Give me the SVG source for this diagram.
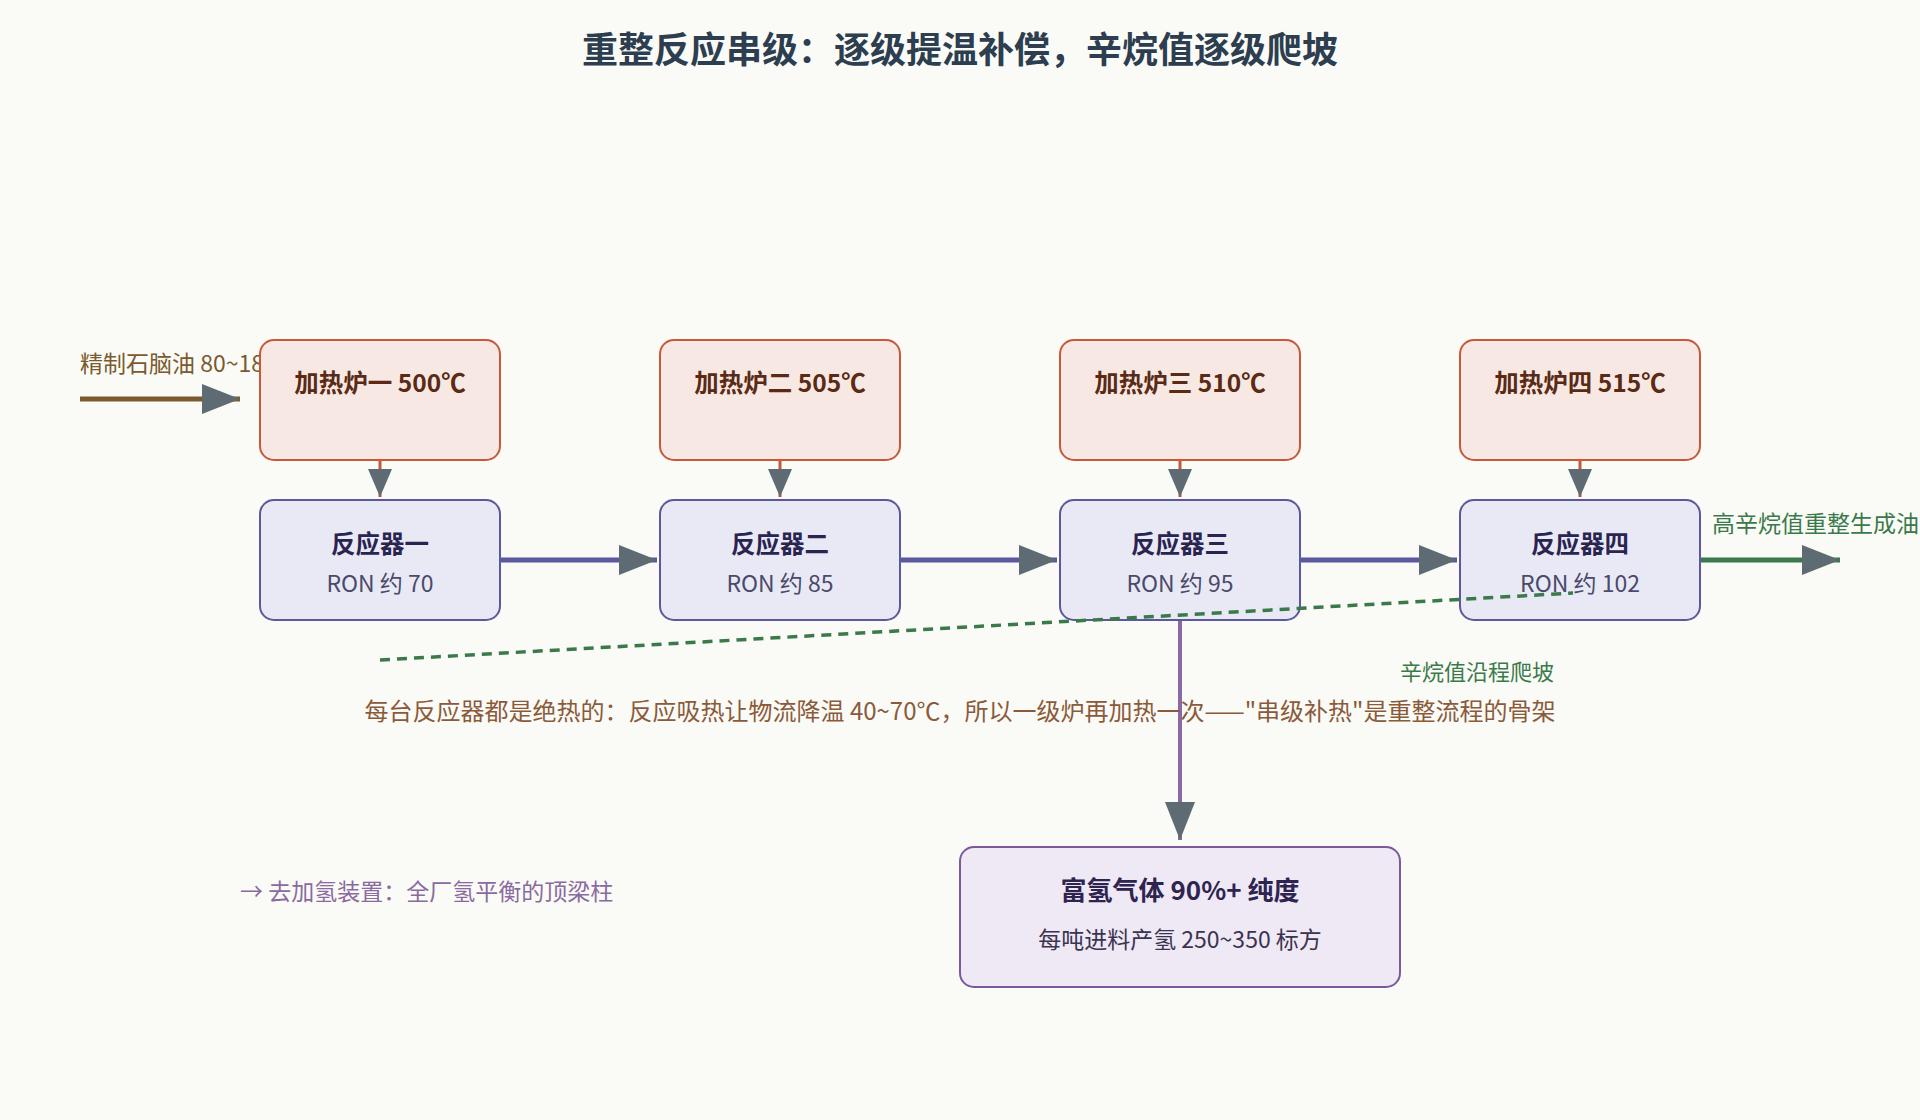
<svg xmlns="http://www.w3.org/2000/svg" width="1920" height="1120" viewBox="0 0 1920 1120">
<style>
text{font-family:"Noto Sans CJK SC","Noto Sans",sans-serif}
.fur{fill:#f8e8e4;stroke:#c8583a;stroke-width:2}
.rea{fill:#e9e9f6;stroke:#5a589e;stroke-width:2}
.ft{font-size:24.5px;font-weight:700;fill:#5a2a14;text-anchor:middle}
.rt{font-size:24.5px;font-weight:700;fill:#2a2450;text-anchor:middle}
.rs{font-size:23px;fill:#4a4a6a;text-anchor:middle}
</style>
<defs>
<marker id="ah" markerUnits="userSpaceOnUse" markerWidth="40" markerHeight="30" refX="38" refY="15" orient="auto"><path d="M0,0 L38,15 L0,30 Z" fill="#5f6b72"/></marker>
<marker id="ahs" markerUnits="userSpaceOnUse" markerWidth="30" markerHeight="30" refX="28" refY="12" orient="auto"><path d="M0,0 L28,12 L0,24 Z" fill="#5f6b72"/></marker>
</defs>
<rect width="1920" height="1120" fill="#fafaf6"/>
<text x="960" y="63" font-size="36" font-weight="700" fill="#2c3e50" text-anchor="middle">重整反应串级：逐级提温补偿，辛烷值逐级爬坡</text>
<text x="80" y="372" font-size="23" fill="#7a5a2e">精制石脑油 80~180℃</text>
<text x="1712" y="532" font-size="23" fill="#3a7a4a">高辛烷值重整生成油</text>
<g id="connectors" fill="none">
<line x1="80" y1="399" x2="240" y2="399" stroke="#7a5a2e" stroke-width="5" marker-end="url(#ah)"/>
<line x1="380" y1="460" x2="380" y2="497" stroke="#c8583a" stroke-width="3" marker-end="url(#ahs)"/>
<line x1="780" y1="460" x2="780" y2="497" stroke="#c8583a" stroke-width="3" marker-end="url(#ahs)"/>
<line x1="1180" y1="460" x2="1180" y2="497" stroke="#c8583a" stroke-width="3" marker-end="url(#ahs)"/>
<line x1="1580" y1="460" x2="1580" y2="497" stroke="#c8583a" stroke-width="3" marker-end="url(#ahs)"/>
<line x1="500" y1="560" x2="657" y2="560" stroke="#5a589e" stroke-width="5" marker-end="url(#ah)"/>
<line x1="900" y1="560" x2="1057" y2="560" stroke="#5a589e" stroke-width="5" marker-end="url(#ah)"/>
<line x1="1300" y1="560" x2="1457" y2="560" stroke="#5a589e" stroke-width="5" marker-end="url(#ah)"/>
<line x1="1700" y1="560" x2="1840" y2="560" stroke="#3a7a4a" stroke-width="5" marker-end="url(#ah)"/>
<line x1="1180" y1="620" x2="1180" y2="840" stroke="#8a6aa0" stroke-width="4" marker-end="url(#ah)"/>
</g>
<g id="furnace1"><rect class="fur" x="260" y="340" width="240" height="120" rx="14"/><text class="ft" x="380" y="392">加热炉一 500℃</text></g>
<g id="furnace2"><rect class="fur" x="660" y="340" width="240" height="120" rx="14"/><text class="ft" x="780" y="392">加热炉二 505℃</text></g>
<g id="furnace3"><rect class="fur" x="1060" y="340" width="240" height="120" rx="14"/><text class="ft" x="1180" y="392">加热炉三 510℃</text></g>
<g id="furnace4"><rect class="fur" x="1460" y="340" width="240" height="120" rx="14"/><text class="ft" x="1580" y="392">加热炉四 515℃</text></g>
<g id="reactor1"><rect class="rea" x="260" y="500" width="240" height="120" rx="14"/><text class="rt" x="380" y="553">反应器一</text><text class="rs" x="380" y="592">RON 约 70</text></g>
<g id="reactor2"><rect class="rea" x="660" y="500" width="240" height="120" rx="14"/><text class="rt" x="780" y="553">反应器二</text><text class="rs" x="780" y="592">RON 约 85</text></g>
<g id="reactor3"><rect class="rea" x="1060" y="500" width="240" height="120" rx="14"/><text class="rt" x="1180" y="553">反应器三</text><text class="rs" x="1180" y="592">RON 约 95</text></g>
<g id="reactor4"><rect class="rea" x="1460" y="500" width="240" height="120" rx="14"/><text class="rt" x="1580" y="553">反应器四</text><text class="rs" x="1580" y="592">RON 约 102</text></g>
<line x1="380" y1="660" x2="1573" y2="593" stroke="#3a7a4a" stroke-width="3.5" stroke-dasharray="10,7"/>
<text x="1477" y="680" font-size="22" fill="#3a7a4a" text-anchor="middle">辛烷值沿程爬坡</text>
<text x="960" y="720" font-size="24" fill="#8a5a3a" text-anchor="middle">每台反应器都是绝热的：反应吸热让物流降温 40~70℃，所以一级炉再加热一次——"串级补热"是重整流程的骨架</text>
<g id="hydrogen"><rect x="960" y="847" width="440" height="140" rx="14" fill="#efe8f5" stroke="#7a5a9a" stroke-width="2"/><text x="1180" y="900" font-size="26" font-weight="700" fill="#2e2450" text-anchor="middle">富氢气体 90%+ 纯度</text><text x="1180" y="948" font-size="23" fill="#3a3450" text-anchor="middle">每吨进料产氢 250~350 标方</text></g>
<text x="240" y="900" font-size="23" fill="#8a6aa0">→ 去加氢装置：全厂氢平衡的顶梁柱</text>
</svg>
